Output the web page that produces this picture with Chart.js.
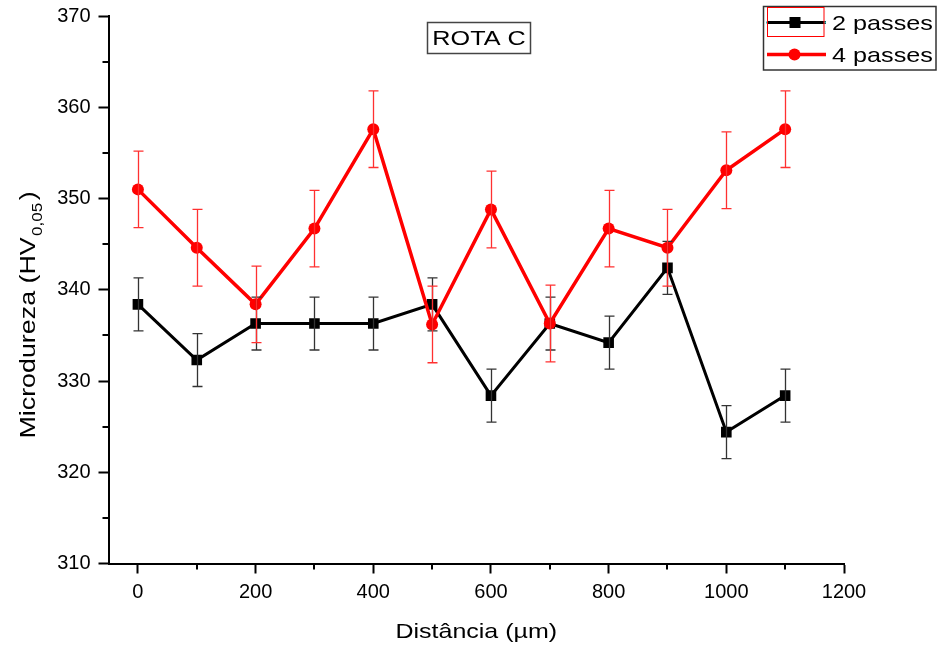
<!DOCTYPE html>
<html lang="pt">
<head>
<meta charset="UTF-8">
<title>ROTA C</title>
<script src="https://cdn.jsdelivr.net/npm/chart.js@4.4.1/dist/chart.umd.min.js"></script>
<style>
    html, body { margin: 0; padding: 0; background: #fff; }
    #wrap { width: 941px; height: 648px; }
</style>
</head>
<body>
<div id="wrap"><canvas id="chart" width="941" height="648"></canvas></div>
<script>
// values
const distancia = [0, 100, 200, 300, 400, 500, 600, 700, 800, 900, 1000, 1100];
const passes2 = [338.4, 332.3, 336.3, 336.3, 336.3, 338.4, 328.4, 336.3, 334.2, 342.4, 324.4, 328.4];
const passes2Err = [2.9, 2.9, 2.9, 2.9, 2.9, 2.9, 2.9, 2.9, 2.9, 2.9, 2.9, 2.9];
const passes4 = [351.0, 344.6, 338.4, 346.7, 357.6, 336.2, 348.8, 336.3, 346.7, 344.6, 353.1, 357.6];
const passes4Err = [4.2, 4.2, 4.2, 4.2, 4.2, 4.2, 4.2, 4.2, 4.2, 4.2, 4.2, 4.2];

const xTicks = [0, 200, 400, 600, 800, 1000, 1200];
const xMinor = [100, 300, 500, 700, 900, 1100];
const yTicks = [310, 320, 330, 340, 350, 360, 370];
const yMinor = [315, 325, 335, 345, 355, 365];

const FONT = "'Liberation Sans', Arial, sans-serif";

function points(ys) {
    return distancia.map((x, i) => ({ x: x, y: ys[i] }));
}

// text in the picture is a bit wider than Arial, so stretch it
function wideText(ctx, text, x, y, sx, align) {
    ctx.save();
    ctx.translate(x, y);
    ctx.scale(sx, 1);
    ctx.textAlign = align;
    ctx.fillText(text, 0, 0);
    ctx.restore();
}

const errorBars = {
    id: 'errorBars',
    afterDatasetsDraw(chart) {
        const ctx = chart.ctx;
        const xs = chart.scales.x, ys = chart.scales.y;
        const sets = [
            { vals: passes2, err: passes2Err, color: '#333' },
            { vals: passes4, err: passes4Err, color: '#ff3030' }
        ];
        ctx.save();
        sets.forEach(s => {
            ctx.strokeStyle = s.color;
            ctx.lineWidth = 1.3;
            s.vals.forEach((v, i) => {
                const px = Math.round(xs.getPixelForValue(distancia[i])) + 0.5;
                const top = ys.getPixelForValue(v + s.err[i]);
                const bot = ys.getPixelForValue(v - s.err[i]);
                ctx.beginPath();
                ctx.moveTo(px, top); ctx.lineTo(px, bot);
                ctx.moveTo(px - 5, top); ctx.lineTo(px + 5, top);
                ctx.moveTo(px - 5, bot); ctx.lineTo(px + 5, bot);
                ctx.stroke();
            });
        });
        ctx.restore();
    }
};

const decorations = {
    id: 'decorations',
    afterDraw(chart) {
        const ctx = chart.ctx;
        const xs = chart.scales.x, ys = chart.scales.y;
        const area = chart.chartArea;
        ctx.save();

        // minor ticks
        ctx.strokeStyle = '#000';
        ctx.lineWidth = 2;
        ctx.beginPath();
        yMinor.forEach(v => {
            const py = Math.round(ys.getPixelForValue(v));
            ctx.moveTo(area.left - 6, py); ctx.lineTo(area.left, py);
        });
        xMinor.forEach(v => {
            const px = Math.round(xs.getPixelForValue(v));
            ctx.moveTo(px, area.bottom); ctx.lineTo(px, area.bottom + 6);
        });
        ctx.stroke();

        ctx.fillStyle = '#000';
        ctx.textBaseline = 'alphabetic';

        // title box
        ctx.strokeStyle = '#444';
        ctx.lineWidth = 1.5;
        ctx.strokeRect(427.5, 22.5, 103, 31);
        ctx.font = '21px ' + FONT;
        wideText(ctx, 'ROTA C', 479, 45, 1.2, 'center');

        // x axis title
        wideText(ctx, 'Dist\u00e2ncia (\u00b5m)', (area.left + area.right) / 2, 638, 1.19, 'center');

        // y axis title with subscript
        ctx.save();
        ctx.translate(35, 315);
        ctx.rotate(-Math.PI / 2);
        ctx.scale(1.22, 1);
        ctx.font = '22px ' + FONT;
        const w1 = ctx.measureText('Microdureza (HV').width;
        const w3 = ctx.measureText(')').width;
        ctx.font = '14px ' + FONT;
        const w2 = ctx.measureText('0,05').width;
        let tx = -(w1 + w2 + w3 + 3) / 2;
        ctx.textAlign = 'left';
        ctx.font = '22px ' + FONT;
        ctx.fillText('Microdureza (HV', tx, 0);
        tx += w1 + 1;
        ctx.font = '14px ' + FONT;
        ctx.fillText('0,05', tx, 7);
        tx += w2 + 2;
        ctx.font = '22px ' + FONT;
        ctx.fillText(')', tx, 0);
        ctx.restore();

        // legend
        ctx.strokeStyle = '#333';
        ctx.lineWidth = 1.5;
        ctx.strokeRect(763.5, 6.5, 172.5, 63.5);

        ctx.strokeStyle = '#000';
        ctx.lineWidth = 3;
        ctx.beginPath(); ctx.moveTo(767, 22.5); ctx.lineTo(826, 22.5); ctx.stroke();
        ctx.fillStyle = '#000';
        ctx.fillRect(789.5, 17, 11, 11);
        ctx.fillStyle = '#22bbbb';
        ctx.fillRect(766, 21.5, 2, 2);
        ctx.fillRect(824, 21.5, 2, 2);
        ctx.strokeStyle = '#ff0000';
        ctx.lineWidth = 1;
        ctx.strokeRect(767.5, 7.5, 56.5, 29);

        ctx.strokeStyle = '#ff0000';
        ctx.lineWidth = 3.5;
        ctx.beginPath(); ctx.moveTo(767, 54.5); ctx.lineTo(826, 54.5); ctx.stroke();
        ctx.fillStyle = '#ff0000';
        ctx.beginPath(); ctx.arc(794.5, 54.5, 6, 0, Math.PI * 2); ctx.fill();

        ctx.fillStyle = '#000';
        ctx.font = '21px ' + FONT;
        wideText(ctx, '2 passes', 832, 30, 1.2, 'left');
        wideText(ctx, '4 passes', 832, 62, 1.2, 'left');

        ctx.restore();
    }
};

const chart = new Chart(document.getElementById('chart'), {
    type: 'scatter',
    data: {
        datasets: [
            {
                label: '2 passes',
                data: points(passes2),
                showLine: true,
                borderColor: '#000',
                backgroundColor: '#000',
                borderWidth: 3,
                pointStyle: 'rect',
                pointRadius: 7.5,
                pointBorderWidth: 0,
                order: 1
            },
            {
                label: '4 passes',
                data: points(passes4),
                showLine: true,
                borderColor: '#ff0000',
                backgroundColor: '#ff0000',
                borderWidth: 3.5,
                pointStyle: 'circle',
                pointRadius: 6,
                pointBorderWidth: 0,
                order: 0
            }
        ]
    },
    options: {
        responsive: false,
        devicePixelRatio: 1,
        animation: false,
        layout: { padding: { top: 16, right: 97, left: 0, bottom: 0 } },
        plugins: {
            legend: { display: false },
            tooltip: { enabled: false }
        },
        scales: {
            x: {
                type: 'linear',
                position: 'bottom',
                min: -50,
                max: 1200,
                afterBuildTicks: s => { s.ticks = xTicks.map(v => ({ value: v })); },
                afterFit: s => { s.height = 84.5; s.paddingLeft = 0; s.paddingRight = 0; },
                grid: { drawOnChartArea: false, tickLength: 10, tickWidth: 2, tickColor: '#000' },
                border: { color: '#000', width: 2 },
                ticks: {
                    font: { family: FONT, size: 20 },
                    color: '#000',
                    padding: 7,
                    maxRotation: 0,
                    callback: v => String(v)
                }
            },
            y: {
                min: 310,
                max: 370,
                afterBuildTicks: s => { s.ticks = yTicks.map(v => ({ value: v })); },
                afterFit: s => { s.width = 108.5; s.paddingTop = 0; s.paddingBottom = 0; },
                grid: { drawOnChartArea: false, tickLength: 10, tickWidth: 2, tickColor: '#000' },
                border: { color: '#000', width: 2 },
                ticks: {
                    font: { family: FONT, size: 20 },
                    color: '#000',
                    padding: 8,
                    callback: v => String(v)
                }
            }
        }
    },
    plugins: [errorBars, decorations]
});
</script>
</body>
</html>
